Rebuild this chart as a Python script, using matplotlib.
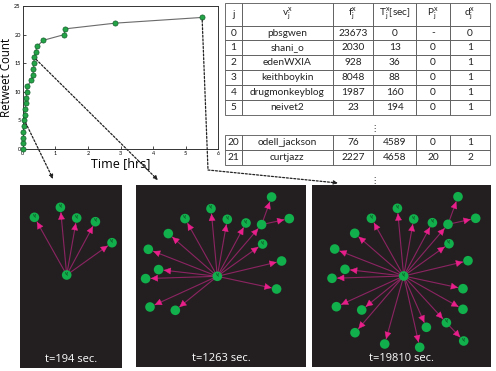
import numpy as np
import matplotlib
matplotlib.use("Agg")
import matplotlib.pyplot as plt
from matplotlib.patches import ConnectionPatch

# ---------------- data ----------------
retweet_count = list(range(24))
retweet_time_sec = [0, 13, 36, 88, 160, 194, 230, 260, 350, 400, 430, 500,
                    970, 1130, 1190, 1230, 1263, 1420, 1620, 2270, 4589, 4658,
                    10200, 19810]

table_cols = ["j", r"v$_\mathregular{j}^\mathregular{x}$", r"f$_\mathregular{j}^\mathregular{x}$",
              r"T$_\mathregular{j}^\mathregular{x}$[sec]", r"P$_\mathregular{j}^\mathregular{x}$",
              r"d$_\mathregular{j}^\mathregular{x}$"]
table_rows_a = [["0", "pbsgwen", "23673", "0", "-", "0"],
                ["1", "shani_o", "2030", "13", "0", "1"],
                ["2", "edenWXIA", "928", "36", "0", "1"],
                ["3", "keithboykin", "8048", "88", "0", "1"],
                ["4", "drugmonkeyblog", "1987", "160", "0", "1"],
                ["5", "neivet2", "23", "194", "0", "1"]]
table_rows_b = [["20", "odell_jackson", "76", "4589", "0", "1"],
                ["21", "curtjazz", "2227", "4658", "20", "2"]]

# cascade layout (offsets from root, px), in retweet order j = 1..23
node_dx = [-32.3, -6.3, 10, 28.7, 45.3, 44.3, 54.3, 72, -49, -69, 64.3, -58.7,
           -71.7, 59.3, -67.3, -42, 59.3, -48.7, -19, 42.7, 60, 16, 22.7]
node_dy = [-57.7, -67.7, -57, -53.3, -32.3, -51.7, -79.3, -57.7, -42.7, -27,
           -15.3, -6.7, 2.3, 12.7, 30.7, 34, 33.3, 56.7, 68, 46.7, 65, 71.3, 51.3]
node_parent = [0, 0, 0, 0, 0, 0, 6, 6, 0, 0, 0, 0, 0, 0, 0, 0, 0, 0, 0, 0, 20, 0, 0]
node_labeled = [1, 1, 1, 1, 1, 0, 0, 0, 0, 0, 0, 0, 0, 0, 0, 0, 0, 0, 0, 1, 1, 0, 0]

panel_time = [194, 1263, 19810]
panel_visible = [5, 16, 23]

# ---------------- figure ----------------
W, H = 496, 371
fig = plt.figure(figsize=(W / 100, H / 100), dpi=100)
plt.rcParams['font.family'] = ['Lato', 'DejaVu Sans']


def rect(x0, y0, x1, y1):
    return [x0 / W, 1 - y1 / H, (x1 - x0) / W, (y1 - y0) / H]


# ---- top-left line chart ----
ax = fig.add_axes(rect(22.7, 6, 218.3, 149))
t_hrs = np.array(retweet_time_sec) / 3600.0
ax.plot(t_hrs, retweet_count, '-', color='#6a6a6a', lw=0.8, zorder=2)
ax.plot(t_hrs, retweet_count, 'o', ms=3.7, mfc='#22a447', mec='#16602c', mew=0.5,
        zorder=3, clip_on=False)
ax.set_xlim(0, 6)
ax.set_ylim(0, 25)
ax.set_xticks(range(0, 7))
ax.set_yticks(range(0, 26, 5))
ax.tick_params(direction='in', length=2, width=0.5, labelsize=4, pad=1.5)
for s in ax.spines.values():
    s.set_linewidth(0.7)
    s.set_color('#333333')
ax.set_xlabel("Time [hrs]", fontsize=9, labelpad=1, family=['Open Sans', 'DejaVu Sans'])
ax.set_ylabel("Retweet Count", fontsize=8.3, labelpad=1, family=['Open Sans', 'DejaVu Sans'])

# ---- tables ----
col_w = [16.7, 91, 40.6, 42.7, 34, 40]
col_w = [c / sum(col_w) for c in col_w]


def draw_table(axt, rows, labels, header_scale):
    tb = axt.table(cellText=rows, colLabels=labels, colWidths=col_w,
                   cellLoc='center', bbox=[0, 0, 1, 1])
    tb.auto_set_font_size(False)
    tb.set_fontsize(7.3)
    for (r, c), cell in tb.get_celld().items():
        cell.set_edgecolor('#555555')
        cell.set_linewidth(0.6)
        cell.PAD = 0.02
        if labels is not None and r == 0:
            cell.set_height(cell.get_height() * header_scale)
        cell.get_text().set_color('#222222')
    return tb


ta = fig.add_axes(rect(225, 2.7, 490, 115))
ta.axis('off')
draw_table(ta, table_rows_a, table_cols, 23 / 15)
tbx = fig.add_axes(rect(225, 135, 490, 165))
tbx.axis('off')
draw_table(tbx, table_rows_b, None, 1)
fig.text(374 / W, 1 - 128 / H, "⋮", ha='center', va='center', fontsize=6,
         family='DejaVu Sans', color='#222222')
fig.text(374 / W, 1 - 181 / H, "⋮", ha='center', va='center', fontsize=6,
         family='DejaVu Sans', color='#222222')

# ---- cascade panels ----
panel_rects = [(20, 185, 122, 368), (136, 185, 306, 367), (312, 185, 491, 367)]
panel_root = [(46.7, 90), (81.3, 91.3), (91.7, 91)]
bg = '#231f20'
node_col = '#12b04c'
r_px = 4.8
panels = []
for k in range(3):
    x0, y0, x1, y1 = panel_rects[k]
    rx, ry = panel_root[k]
    p = fig.add_axes(rect(x0, y0, x1, y1))
    p.set_facecolor(bg)
    p.set_xlim(-rx, (x1 - x0) - rx)
    p.set_ylim((y1 - y0) - ry, -ry)
    p.set_xticks([])
    p.set_yticks([])
    for s in p.spines.values():
        s.set_visible(False)
    n = panel_visible[k]
    xs = [0.0] + node_dx[:n]
    ys = [0.0] + node_dy[:n]
    for j in range(1, n + 1):
        pa = node_parent[j - 1]
        px_, py_ = xs[pa], ys[pa]
        cx, cy = xs[j], ys[j]
        d = np.hypot(cx - px_, cy - py_)
        ux, uy = (cx - px_) / d, (cy - py_) / d
        ex, ey = cx - ux * (r_px + 0.5), cy - uy * (r_px + 0.5)
        p.plot([px_, ex], [py_, ey], color='#8c2462', lw=0.8, zorder=1)
        p.annotate("", xy=(ex, ey), xytext=(ex - ux * 5, ey - uy * 5),
                   arrowprops=dict(arrowstyle='-|>,head_length=0.45,head_width=0.22',
                                   color='#e81f8a', lw=0.3, shrinkA=0, shrinkB=0),
                   zorder=2)
    p.scatter(xs, ys, s=(2 * r_px * 0.72) ** 2, c=node_col, edgecolors='none', zorder=3)
    for j in range(0, n + 1):
        if j == 0 or node_labeled[j - 1]:
            p.text(xs[j], ys[j], r"v$_\mathregular{j}$", fontsize=3.6, color='#0a3f1d',
                   ha='center', va='center', zorder=4)
    p.text(0.5, 0.045, f"t={panel_time[k]} sec.", transform=p.transAxes, ha='center',
           va='center', color='white', fontsize=8, family=['Open Sans', 'DejaVu Sans'])
    panels.append(p)

# ---- dotted connectors ----
dot = dict(linestyle=(0, (1.6, 1.4)), lw=0.9, color='#222222')
c1 = ConnectionPatch(xyA=(t_hrs[5], 5), coordsA=ax.transData,
                     xyB=(0.324, 1.033), coordsB=panels[0].transAxes,
                     arrowstyle='-|>', mutation_scale=6, shrinkA=2, shrinkB=0, **dot)
fig.add_artist(c1)
c2 = ConnectionPatch(xyA=(t_hrs[16], 16), coordsA=ax.transData,
                     xyB=(0.129, 1.027), coordsB=panels[1].transAxes,
                     arrowstyle='-|>', mutation_scale=6, shrinkA=2, shrinkB=0, **dot)
fig.add_artist(c2)
corner = (208 / W, 1 - 170 / H)
c3 = ConnectionPatch(xyA=(t_hrs[23], 23), coordsA=ax.transData,
                     xyB=corner, coordsB=fig.transFigure,
                     arrowstyle='-', shrinkA=2, shrinkB=0, **dot)
fig.add_artist(c3)
c4 = ConnectionPatch(xyA=corner, coordsA=fig.transFigure,
                     xyB=(0.145, 1.011), coordsB=panels[2].transAxes,
                     arrowstyle='-|>', mutation_scale=6, shrinkA=0, shrinkB=0, **dot)
fig.add_artist(c4)

fig.savefig("out.png", dpi=100)
